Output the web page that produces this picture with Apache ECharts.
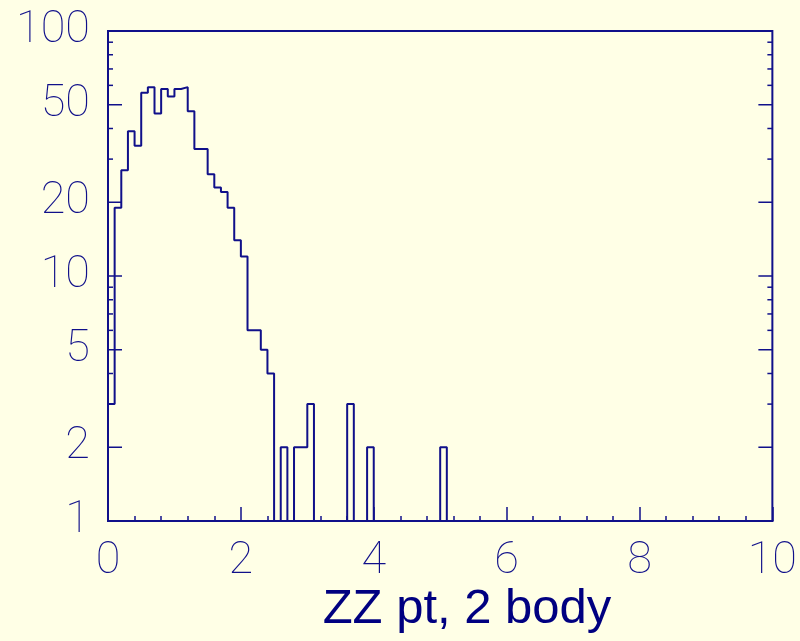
<!DOCTYPE html>
<html>
<head>
<meta charset="utf-8">
<script src="https://cdn.jsdelivr.net/npm/echarts@6/dist/echarts.min.js"></script>
<style>
html,body{margin:0;padding:0;background:#ffffe6;}
#c{width:800px;height:641px;}
</style>
</head>
<body>
<div id="c"></div>
<script>
// Histogram: 100 bins of width 0.1 from 0 to 10
var binEdges = [];
for (var k = 0; k <= 100; k++) binEdges.push(+(k * 0.1).toFixed(1));
var counts = [
  3, 19, 27, 39, 34, 56, 59, 46, 58, 54,
  58, 59, 47, 33, 33, 26, 23, 22, 19, 14,
  12, 6, 6, 5, 4, 0, 2, 0, 2, 2,
  3, 0, 0, 0, 0, 0, 3, 0, 0, 2,
  0, 0, 0, 0, 0, 0, 0, 0, 0, 0,
  2, 0, 0, 0, 0, 0, 0, 0, 0, 0,
  0, 0, 0, 0, 0, 0, 0, 0, 0, 0,
  0, 0, 0, 0, 0, 0, 0, 0, 0, 0,
  0, 0, 0, 0, 0, 0, 0, 0, 0, 0,
  0, 0, 0, 0, 0, 0, 0, 0, 0, 0
];
var xTickLabels = ['0', '2', '4', '6', '8', '10'];
var yLabelValues = [1, 2, 5, 10, 20, 50, 100];
var yMinorValues = [3, 4, 6, 7, 8, 9, 30, 40, 60, 70, 80, 90];
var titleText = 'ZZ pt, 2 body';

var INK = '#10108a';
var LABEL_FONT = 'Roboto';

// step line points (log axis: empty bins drawn on the axis floor = 1)
var stepData = [];
for (var i = 0; i < counts.length; i++) {
  stepData.push([binEdges[i], Math.max(counts[i], 1)]);
}
stepData.push([binEdges[100], Math.max(counts[counts.length - 1], 1)]);

var tickData = [];
yLabelValues.forEach(function (v) { tickData.push([0, v, 1]); });
yMinorValues.forEach(function (v) { tickData.push([0, v, 0]); });

var chart = echarts.init(document.getElementById('c'), null, {renderer: 'canvas'});
chart.setOption({
  backgroundColor: '#ffffe6',
  animation: false,
  grid: {
    left: 108, right: 27, top: 31, bottom: 120,
    show: true, borderColor: INK, borderWidth: 2, backgroundColor: 'transparent'
  },
  xAxis: {
    type: 'value', min: 0, max: 10, interval: 2,
    axisLine: {show: true, lineStyle: {color: INK, width: 2}},
    axisTick: {show: true, inside: true, length: 14, lineStyle: {color: INK, width: 1.5}},
    minorTick: {show: true, splitNumber: 5, length: 5, lineStyle: {color: INK, width: 1.5}},
    splitLine: {show: false},
    axisLabel: {
      show: true, margin: 18, color: INK, fontFamily: LABEL_FONT, fontWeight: 100, fontSize: 45,
      formatter: function (v) {
        var idx = Math.round(v / 2);
        return xTickLabels[idx] !== undefined ? xTickLabels[idx] : '';
      }
    }
  },
  yAxis: {
    type: 'log', logBase: 10, min: 1, max: 100,
    axisLine: {show: false}, axisTick: {show: false}, axisLabel: {show: false},
    splitLine: {show: false}
  },
  graphic: [{
    type: 'text', left: null, x: 467, y: 609,
    style: {
      text: titleText, fill: '#000080', font: '49px "Liberation Sans", Arial, sans-serif',
      textAlign: 'center', textVerticalAlign: 'middle'
    }
  }],
  series: [
    {
      type: 'line', step: 'end', data: stepData, showSymbol: false, symbol: 'none',
      lineStyle: {color: INK, width: 2}, clip: false, z: 3
    },
    {
      type: 'custom', data: tickData, encode: {x: 0, y: 1}, z: 4,
      renderItem: function (params, api) {
        var v = api.value(1);
        var major = api.value(2) === 1;
        var p = api.coord([0, v]);
        var q = api.coord([10, v]);
        var len = major ? 14 : 5;
        var children = [
          {type: 'line', shape: {x1: p[0], y1: p[1], x2: p[0] + len, y2: p[1]}, style: {stroke: INK, lineWidth: 1.5}},
          {type: 'line', shape: {x1: q[0] - len, y1: q[1], x2: q[0], y2: q[1]}, style: {stroke: INK, lineWidth: 1.5}}
        ];
        if (major) {
          children.push({
            type: 'text', x: p[0] - 18, y: p[1],
            style: {
              text: String(v), fill: INK, fontFamily: LABEL_FONT, fontWeight: 100, fontSize: 45,
              textAlign: 'right', textVerticalAlign: 'middle'
            }
          });
        }
        return {type: 'group', children: children};
      }
    }
  ]
});
</script>
</body>
</html>
